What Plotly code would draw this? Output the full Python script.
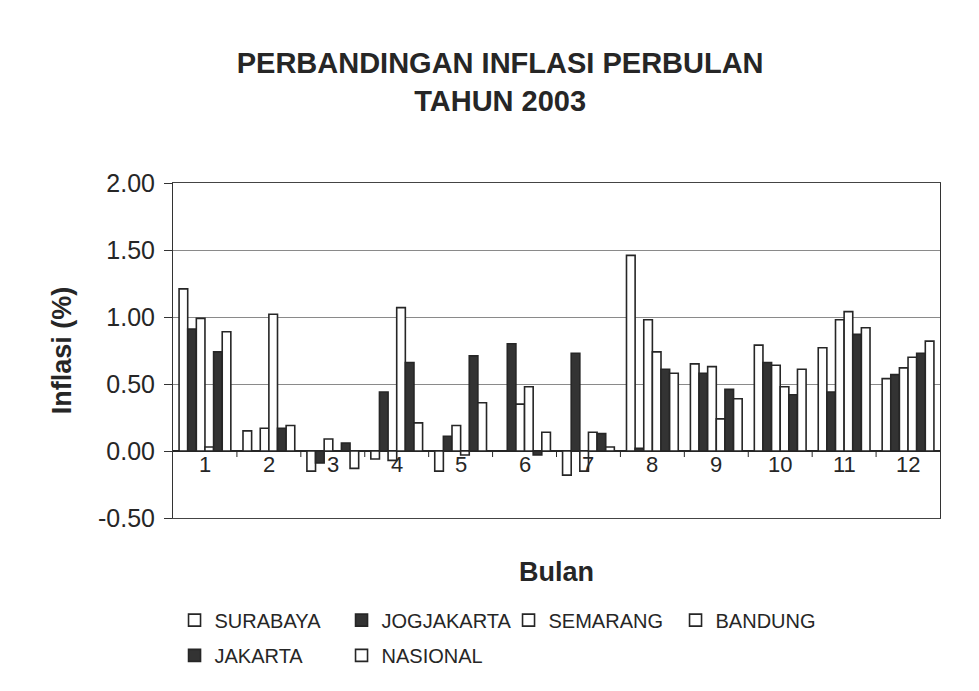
import plotly.graph_objects as go

months = ["1", "2", "3", "4", "5", "6", "7", "8", "9", "10", "11", "12"]
surabaya   = [1.21, 0.15, -0.15, -0.06, -0.15, 0.00, -0.18, 1.46, 0.65, 0.79, 0.77, 0.54]
jogjakarta = [0.91, 0.00, -0.09, 0.44, 0.11, 0.80, 0.73, 0.02, 0.58, 0.66, 0.44, 0.57]
semarang   = [0.99, 0.17, 0.09, -0.07, 0.19, 0.35, -0.15, 0.98, 0.63, 0.64, 0.98, 0.62]
bandung    = [0.03, 1.02, 0.00, 1.07, -0.03, 0.48, 0.14, 0.74, 0.24, 0.48, 1.04, 0.70]
jakarta    = [0.74, 0.17, 0.06, 0.66, 0.71, -0.03, 0.13, 0.61, 0.46, 0.42, 0.87, 0.73]
nasional   = [0.89, 0.19, -0.13, 0.21, 0.36, 0.14, 0.03, 0.58, 0.39, 0.61, 0.92, 0.82]

y_tickvals = [-0.5, 0.0, 0.5, 1.0, 1.5, 2.0]
y_ticktext = ["-0.50", "0.00", "0.50", "1.00", "1.50", "2.00"]

series = [
    ("SURABAYA", surabaya, "white", "legend"),
    ("JOGJAKARTA", jogjakarta, "#333333", "legend"),
    ("SEMARANG", semarang, "white", "legend"),
    ("BANDUNG", bandung, "white", "legend"),
    ("JAKARTA", jakarta, "#333333", "legend2"),
    ("NASIONAL", nasional, "white", "legend2"),
]

x = list(range(1, 13))
FONT = "Liberation Sans, Arial, sans-serif"
INK = "#262626"

fig = go.Figure()
for name, vals, col, lg in series:
    fig.add_trace(go.Bar(
        x=x, y=vals, name=name, legend=lg,
        marker=dict(color=col, line=dict(color=INK, width=1.6)),
    ))

annotations = []
for i, m in enumerate(months):
    annotations.append(dict(x=x[i], y=0, xref="x", yref="y", text=m, showarrow=False,
                            yshift=-13, font=dict(size=22, color=INK, family=FONT)))

shapes = []
for k in range(1, 12):
    shapes.append(dict(type="line", xref="x", yref="y", x0=k + 0.5, x1=k + 0.5, y0=0, y1=-0.045,
                       line=dict(color=INK, width=1)))

fig.update_layout(
    width=979, height=691,
    paper_bgcolor="white", plot_bgcolor="white",
    margin=dict(l=165, r=47, t=175, b=181),
    barmode="group", bargap=0.19, bargroupgap=0,
    font=dict(family=FONT, color=INK),
    title=dict(text="<b>PERBANDINGAN INFLASI PERBULAN<br>TAHUN 2003</b>",
               x=0.5027, xanchor="center", y=0.906, yanchor="middle",
               font=dict(size=29, family=FONT, color=INK)),
    xaxis=dict(range=[0.5, 12.5], showticklabels=False, showgrid=False, ticks="",
               showline=True, linecolor="#444444", mirror=True, zeroline=False,
               title=dict(text="<b>Bulan</b>", font=dict(size=27, family=FONT, color=INK), standoff=44)),
    yaxis=dict(range=[-0.5, 2.0], tickvals=y_tickvals, ticktext=y_ticktext, showgrid=True,
               gridcolor="#8a8a8a", gridwidth=1, zeroline=True, zerolinecolor=INK,
               zerolinewidth=1.5, showline=True, linecolor="#333333", mirror=True,
               ticks="outside", ticklen=8, tickcolor="#333333", ticklabelstandoff=4,
               tickfont=dict(size=25, family=FONT, color=INK),
               title=dict(text="<b>Inflasi (%)</b>", font=dict(size=27, family=FONT, color=INK), standoff=18)),
    legend=dict(orientation="h", x=0.002, xanchor="left", y=-0.305, yanchor="middle",
                font=dict(size=20, family=FONT, color=INK), entrywidth=122, entrywidthmode="pixels",
                itemwidth=30, itemclick=False, traceorder="normal"),
    legend2=dict(orientation="h", x=0.002, xanchor="left", y=-0.41, yanchor="middle",
                 font=dict(size=20, family=FONT, color=INK), entrywidth=122, entrywidthmode="pixels",
                 itemwidth=30, itemclick=False, traceorder="normal"),
    annotations=annotations,
    shapes=shapes,
)

fig.write_html("out.html")
